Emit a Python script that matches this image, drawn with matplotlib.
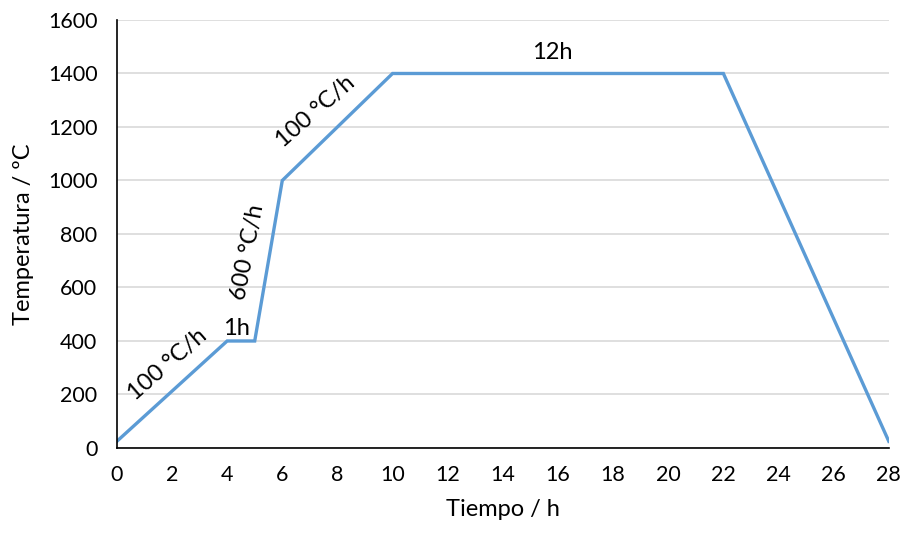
import matplotlib
matplotlib.use("Agg")
import matplotlib.pyplot as plt

time_h = [0, 4, 5, 6, 10, 22, 28]
temp_c = [25, 400, 400, 1000, 1400, 1400, 25]
x_ticks = list(range(0, 29, 2))
y_ticks = list(range(0, 1601, 200))

plt.rcParams['font.family'] = ['Lato', 'DejaVu Sans']

fig = plt.figure(figsize=(9.06, 5.33), dpi=100)
ax = fig.add_axes([0.129, 0.1595, 0.852, 0.803])
ax.plot(time_h, temp_c, color='#5B9BD5', lw=2.4, solid_joinstyle='miter')
ax.set_xlim(0, 28)
ax.set_ylim(0, 1600)
ax.set_xticks(x_ticks)
ax.set_yticks(y_ticks)
ax.tick_params(axis='y', length=0, labelsize=15.5, pad=14)
ax.tick_params(axis='x', length=0, labelsize=15.5, pad=12)
ax.grid(axis='y', color='#D9D9D9', lw=1.2)
ax.set_axisbelow(True)
for s in ['top', 'right']:
    ax.spines[s].set_visible(False)
for s in ['left', 'bottom']:
    ax.spines[s].set_color('black')
    ax.spines[s].set_linewidth(1.2)
ax.set_xlabel('Tiempo / h', fontsize=17, labelpad=10)
ax.set_ylabel('Temperatura / ºC', fontsize=17, labelpad=10)

fs = 17
ax.text(1.85, 310, '100 °C/h', rotation=41, ha='center', va='center', fontsize=fs)
ax.text(4.35, 447, '1h', ha='center', va='center', fontsize=fs)
ax.text(4.75, 733, '600 °C/h', rotation=79, ha='center', va='center', fontsize=fs)
ax.text(7.22, 1256, '100 °C/h', rotation=41, ha='center', va='center', fontsize=fs)
ax.text(15.78, 1477, '12h', ha='center', va='center', fontsize=fs)

fig.savefig('out.png', dpi=100)
